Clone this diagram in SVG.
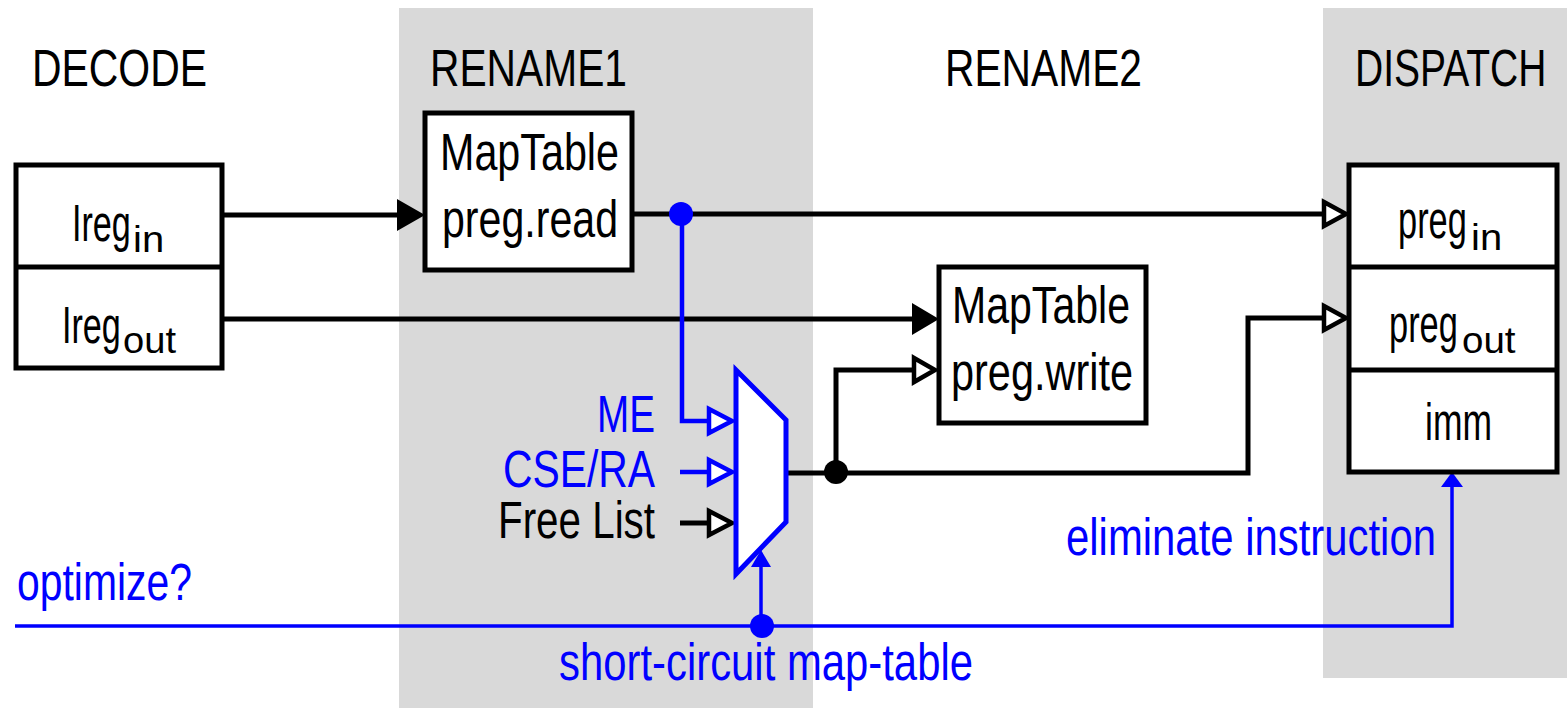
<svg xmlns="http://www.w3.org/2000/svg" width="1567" height="708" viewBox="0 0 1567 708">
  <style>
    text { font-family: "Liberation Sans", Arial, sans-serif; font-size: 51px; fill: #000; }
    text.sub { font-size: 37px; }
    text.blue { fill: #0000ff; }
    .box { fill: #fff; stroke: #000; stroke-width: 5; }
    .band { fill: #d9d9d9; }
    .wire { fill: none; stroke: #000; stroke-width: 5; }
    .bwire { fill: none; stroke: #0000ff; stroke-width: 4.5; }
    .tline { fill: none; stroke: #0000ff; stroke-width: 3.5; }
    .open { fill: #fff; stroke: #000; stroke-width: 4.5; }
    .openb { fill: #fff; stroke: #0000ff; stroke-width: 4.5; }
  </style>

  <!-- pipeline stage backgrounds -->
  <g id="bands">
    <rect class="band" x="399" y="8" width="414" height="700"/>
    <rect class="band" x="1323" y="8" width="244" height="670"/>
  </g>

  <!-- stage titles -->
  <g id="titles">
    <text x="32" y="86" textLength="175" lengthAdjust="spacingAndGlyphs">DECODE</text>
    <text x="430" y="86" textLength="197" lengthAdjust="spacingAndGlyphs">RENAME1</text>
    <text x="945" y="86" textLength="197" lengthAdjust="spacingAndGlyphs">RENAME2</text>
    <text transform="translate(1355,86) scale(0.765,1)">DISPATCH</text>
  </g>

  <!-- connectors -->
  <g id="connectors">
    <!-- Ireg_in -> MapTable read -->
    <line class="wire" x1="222" y1="215" x2="400" y2="215"/>
    <polygon points="397,199 425,215 397,231" fill="#000"/>
    <!-- read output -> preg_in -->
    <line class="wire" x1="632" y1="214" x2="1324" y2="214"/>
    <polygon class="open" points="1324,202 1346,214 1324,226"/>
    <!-- Ireg_out -> MapTable write -->
    <line class="wire" x1="222" y1="319" x2="914" y2="319"/>
    <polygon points="912,303 939,319 912,335" fill="#000"/>
    <!-- mux output -> MapTable write and preg_out -->
    <polyline class="wire" points="786,473 1248,473 1248,318 1324,318"/>
    <polygon class="open" points="1324,306 1346,318 1324,330"/>
    <polyline class="wire" points="836,473 836,370 914,370"/>
    <polygon class="open" points="914,358 935,370 914,382"/>
    <circle cx="836" cy="472" r="12" fill="#000"/>
    <!-- ME path from read output -->
    <polyline class="bwire" points="682,214 682,421 709,421"/>
    <polygon class="openb" points="709,409 732,421 709,433"/>
    <circle cx="681" cy="214" r="12" fill="#0000ff"/>
    <!-- CSE/RA input -->
    <line class="bwire" x1="680" y1="472" x2="709" y2="472"/>
    <polygon class="openb" points="709,460 732,472 709,484"/>
    <!-- Free List input -->
    <line class="wire" x1="680" y1="523" x2="709" y2="523"/>
    <polygon class="open" points="709,511 732,523 709,535"/>
    <!-- optimize? control line -->
    <polyline class="tline" points="15,626 1452,626 1452,486"/>
    <polygon points="1441,487 1452,472 1463,487" fill="#0000ff"/>
    <line class="tline" x1="761" y1="626" x2="761" y2="565"/>
    <polygon points="751,567 761,550 771,567" fill="#0000ff"/>
    <circle cx="762" cy="626" r="12" fill="#0000ff"/>
  </g>

  <!-- decode register fields -->
  <g id="decode">
    <rect class="box" x="16" y="165" width="206" height="203"/>
    <line x1="16" y1="267" x2="222" y2="267" stroke="#000" stroke-width="5"/>
    <text transform="translate(72,241) scale(0.67,1)">Ireg</text>
    <text class="sub" transform="translate(133,252) scale(1.08,1)">in</text>
    <text transform="translate(62,343) scale(0.67,1)">Ireg</text>
    <text class="sub" transform="translate(123,353) scale(1.03,1)">out</text>
  </g>

  <!-- map table read port -->
  <g id="maptable-read">
    <rect class="box" x="425" y="113" width="207" height="157"/>
    <text x="440" y="170" textLength="179" lengthAdjust="spacingAndGlyphs">MapTable</text>
    <text x="442" y="237" textLength="176" lengthAdjust="spacingAndGlyphs">preg.read</text>
  </g>

  <!-- map table write port -->
  <g id="maptable-write">
    <rect class="box" x="939" y="267" width="207" height="156"/>
    <text x="952" y="323" textLength="178" lengthAdjust="spacingAndGlyphs">MapTable</text>
    <text x="951" y="390" textLength="182" lengthAdjust="spacingAndGlyphs">preg.write</text>
  </g>

  <!-- source select mux -->
  <g id="mux">
    <polygon points="736,370 786,420 786,522 736,574" fill="#fff" stroke="#0000ff" stroke-width="5"/>
    <text class="blue" x="597" y="432" textLength="58" lengthAdjust="spacingAndGlyphs">ME</text>
    <text class="blue" x="503" y="487" textLength="152" lengthAdjust="spacingAndGlyphs">CSE/RA</text>
    <text x="498" y="538" textLength="157" lengthAdjust="spacingAndGlyphs">Free List</text>
  </g>

  <!-- dispatch entry -->
  <g id="dispatch">
    <rect class="box" x="1349" y="165" width="208" height="307"/>
    <line x1="1349" y1="267" x2="1557" y2="267" stroke="#000" stroke-width="5"/>
    <line x1="1349" y1="370" x2="1557" y2="370" stroke="#000" stroke-width="5"/>
    <text transform="translate(1398,238) scale(0.675,1)">preg</text>
    <text class="sub" transform="translate(1471,250) scale(1.08,1)">in</text>
    <text transform="translate(1389,342) scale(0.675,1)">preg</text>
    <text class="sub" transform="translate(1462,353) scale(1.04,1)">out</text>
    <text x="1425" y="440" textLength="67" lengthAdjust="spacingAndGlyphs">imm</text>
  </g>

  <!-- control labels -->
  <g id="labels">
    <text class="blue" x="17" y="600" textLength="175" lengthAdjust="spacingAndGlyphs">optimize?</text>
    <text class="blue" x="559" y="680" textLength="414" lengthAdjust="spacingAndGlyphs">short-circuit map-table</text>
    <text class="blue" x="1066" y="555" textLength="370" lengthAdjust="spacingAndGlyphs">eliminate instruction</text>
  </g>
</svg>
